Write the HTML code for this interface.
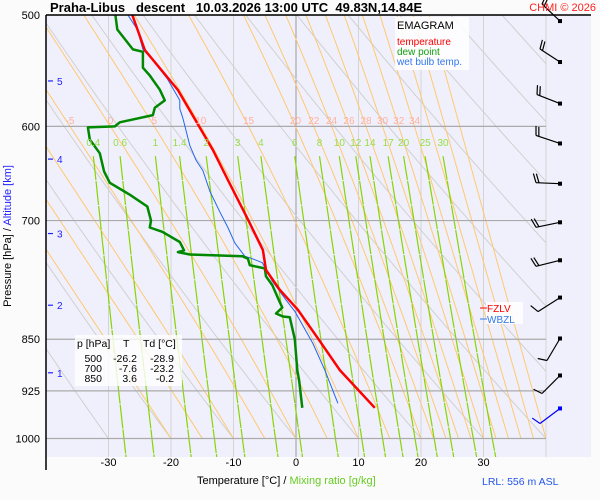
<!DOCTYPE html>
<html><head><meta charset="utf-8"><style>
body{margin:0;background:#fbfbfb;}
svg{display:block;font-family:"Liberation Sans",sans-serif;}
</style></head><body>
<svg id="chart" width="600" height="500" viewBox="0 0 600 500" xmlns="http://www.w3.org/2000/svg">
<rect x="0" y="0" width="600" height="500" fill="#fbfbfb"/>
<rect x="46" y="15" width="545" height="442" fill="#f0f0fc"/>
<g id="grid"></g><g id="series"></g><g id="barbs"></g><g id="labels"></g>
<line x1="46" y1="15" x2="591" y2="15" stroke="#000" stroke-width="1.5"/>
<line x1="46" y1="15" x2="46" y2="470" stroke="#000" stroke-width="1.5"/>
<text x="50" y="12" font-size="13" font-weight="bold" xml:space="preserve">Praha-Libus   descent   10.03.2026 13:00 UTC  49.83N,14.84E</text>
<text x="596" y="11" font-size="11" fill="#ff2020" text-anchor="end">CHMI © 2026</text>
<g>
<rect x="395" y="17" width="74" height="53" fill="#fff" opacity="0.85"/>
<text x="397" y="29" font-size="11">EMAGRAM</text>
<text x="397" y="45" font-size="10" fill="#ff0000">temperature</text>
<text x="397" y="55" font-size="10" fill="#10a010">dew point</text>
<text x="397" y="65" font-size="10" fill="#3377ee">wet bulb temp.</text>
</g>
<g>
<rect x="486" y="302" width="37" height="22" fill="#fff" opacity="0.85"/>
<line x1="480" y1="308" x2="487" y2="308" stroke="#ff0000"/><text x="487" y="312" font-size="10" fill="#ff0000">FZLV</text>
<line x1="480" y1="319" x2="487" y2="319" stroke="#3377ee"/><text x="487" y="323" font-size="10" fill="#3377ee">WBZL</text>
</g>
<g font-size="10.5">
<rect x="75" y="335" width="107" height="51" fill="#fff" opacity="0.8"/>
<text x="77" y="347">p [hPa]</text><text x="123" y="347">T</text><text x="143" y="347">Td [°C]</text>
<g text-anchor="end">
<text x="102" y="362">500</text><text x="137" y="362">-26.2</text><text x="174" y="362">-28.9</text>
<text x="102" y="372">700</text><text x="137" y="372">-7.6</text><text x="174" y="372">-23.2</text>
<text x="102" y="382">850</text><text x="137" y="382">3.6</text><text x="174" y="382">-0.2</text>
</g></g>
<text transform="translate(11,236) rotate(-90)" font-size="11" text-anchor="middle">Pressure [hPa]  /  <tspan fill="#2222ff">Altitude [km]</tspan></text>
<text x="197" y="484" font-size="11">Temperature [°C]  /   <tspan fill="#66cc22">Mixing ratio [g/kg]</tspan></text>
<text x="482" y="485" font-size="10.5" fill="#2255ee">LRL: 556 m ASL</text>
</svg>
<script>
const pressureTicks=[500,600,700,850,925,1000];
const tempTicks=[-30,-20,-10,0,10,20,30];
const altitudeKm=[1,2,3,4,5];
const altitudeP=[898,804,715,633,557];
const mixingRatios=[0.4,0.6,1,1.4,2,3,4,6,8,10,12,14,17,20,25,30];
const thetaWLabels=[-5,0,5,10,15,20,22,24,26,28,30,32,34];
const thetaW=[-20,-15,-10,-5,0,5,10,15,20,22,24,26,28,30,32,34,36,38,40];
const tempP=[500,529.5,565.3,600,623.6,655,700,734.6,759,784,810,850,894,951];
const tempT=[-26.2,-24.2,-18.9,-15.5,-13.3,-10.9,-7.6,-5.3,-4.8,-2.6,0.3,3.6,7.0,12.6];
const dewP=[500,512,529,531,545,552,565,575,582,589,596,600,601,613,627,646,658,671,684,700,708,713,725,735,737,740,742,745,753,757,767,778,800,807,815,819,820,835,850,894,909,951];
const dewT=[-28.9,-28.6,-26.1,-24.5,-24.5,-23.4,-21.8,-21,-22.6,-22.9,-28.2,-29,-33.3,-33,-31.4,-30.7,-29.8,-26.6,-23.8,-23.2,-23.4,-21.4,-18.6,-17.9,-18.9,-17,-8.6,-7.7,-7.4,-5,-4.8,-3.8,-2.6,-2.2,-3.2,-2.1,-1,-0.6,-0.2,0.2,0.5,1.0];
const wbP=[500,512,529,538,555,575,583,592,619,634,645,667,690,708,726,742,745,750,773,797,812,856,894,944];
const wbT=[-26.9,-25.4,-24.5,-23,-20.6,-18.6,-18.6,-18.1,-17,-16,-14.9,-13.8,-12.2,-10.9,-9.8,-8.2,-7,-5.4,-3.8,-1.6,-0.2,2.7,4.6,6.7];
const barbP=[505,540,578,617,659,702,747,794,849,902,952];
const barbColor=["#000","#000","#000","#000","#000","#000","#000","#000","#000","#000","#00f"];

const NS="http://www.w3.org/2000/svg";
const X0=46,X1=546,XR=591,YT=15,YB=457;
function xs(t){return 296+t*6.25;}
function ys(p){return 15+611*Math.log(p/500);}
function mk(tag,attrs,parent){const e=document.createElementNS(NS,tag);for(const k in attrs)e.setAttribute(k,attrs[k]);parent.appendChild(e);return e;}
const grid=document.getElementById('grid'),ser=document.getElementById('series'),lab=document.getElementById('labels'),brb=document.getElementById('barbs');
const defs=mk('defs',{},grid);
const cp=mk('clipPath',{id:'c1'},defs);mk('rect',{x:X0,y:YT,width:X1-X0,height:ys(1000)-YT},cp);
const cp2=mk('clipPath',{id:'c2'},defs);mk('rect',{x:X0,y:YT,width:X1-X0,height:YB-YT},cp2);

function es(tc){return 6.112*Math.exp(17.67*tc/(tc+243.5));}
for(let t=-30;t<=40;t+=10){const x=xs(t);if(x<X0||x>X1)continue;
 const l=mk('line',{x1:x,y1:YT,x2:x,y2:YB,stroke:t===0?'#999':'#d4d4d4','stroke-width':1},grid);
 
 }
const gd=mk('g',{'clip-path':'url(#c1)'},grid);
for(let th=173.15;th<=473.15;th+=10){let d='';
 for(let p=480;p<=1000;p+=10){const t=th*Math.pow(p/1000,0.2857)-273.15;d+=(d?'L':'M')+xs(t).toFixed(1)+','+ys(p).toFixed(1);}
 const l=mk('path',{d:d,fill:'none',stroke:'#d0d0d0','stroke-width':1},gd);
 
 }
function moist(tw){const pts=[];let T=tw+273.15,p=1000;const dp=-2;
 pts.push([p,tw]);
 while(p>480){const tc=T-273.15,e=es(tc),rs=0.622*e/(p-e),L=2.5e6;
  const dTdp=(287*T+L*rs)/(1004+L*L*rs*0.622/(287*T*T))/p;T+=dTdp*dp;p+=dp;pts.push([p,T-273.15]);}
 return pts;}
const gm=mk('g',{'clip-path':'url(#c1)'},grid);
const moistAt600={};
thetaW.forEach(tw=>{const pts=moist(tw);let d='';
 pts.forEach((q,i)=>{d+=(i?'L':'M')+xs(q[1]).toFixed(1)+','+ys(q[0]).toFixed(1);if(Math.abs(q[0]-600)<1)moistAt600[tw]=q[1];});
 const l=mk('path',{d:d,fill:'none',stroke:'#ffc870','stroke-width':1},gm);
 
 });
function wT(w,p){const e=w*p/(622+w),a=Math.log(e/6.112);return 243.5*a/(17.67-a);}
const gw=mk('g',{'clip-path':'url(#c2)'},grid);
mixingRatios.forEach(w=>{let d='';for(let p=630;p<=1035;p+=15){d+=(d?'L':'M')+xs(wT(w,p)).toFixed(1)+','+ys(p).toFixed(1);}
 const l=mk('path',{d:d,fill:'none',stroke:'#88d400','stroke-width':1.2,'stroke-dasharray':'24,1'},gw);
 
 
 const t=mk('text',{x:xs(wT(w,630)),y:146,'font-size':10,fill:'#99dd44','text-anchor':'middle'},lab);t.textContent=String(w);
 
 });
pressureTicks.forEach(p=>{const y=ys(p);
 const l=mk('line',{x1:X0,y1:y,x2:X1,y2:y,stroke:'#aaa','stroke-width':1.2},grid);
 
 
 const t=mk('text',{x:40,y:y+4,'font-size':11,'text-anchor':'end'},lab);t.textContent=String(p);
 
 });
thetaWLabels.forEach(tw=>{const t=mk('text',{x:xs(moistAt600[tw]),y:124,'font-size':10,fill:'#ffb0a0','text-anchor':'middle'},lab);t.textContent=String(tw);
 
 });
tempTicks.forEach(v=>{const t=mk('text',{x:xs(v),y:466,'font-size':11,'text-anchor':'middle'},lab);t.textContent=String(v);
 
 });
altitudeKm.forEach((k,i)=>{const y=ys(altitudeP[i]);
 const l=mk('line',{x1:48,y1:y,x2:53,y2:y,stroke:'#2222ff','stroke-width':1.2},lab);
 
 
 const t=mk('text',{x:57,y:y+4,'font-size':10,fill:'#2222ff'},lab);t.textContent=String(k);
 
 });
function prof(P,T,color,w,name){const d=P.map((p,i)=>(i?'L':'M')+xs(T[i]).toFixed(1)+','+ys(p).toFixed(1)).join('');
 const l=mk('path',{d:d,fill:'none',stroke:color,'stroke-width':w,'stroke-linejoin':'round'},ser);
 
 }
prof(wbP,wbT,'#2266ee',1,'wet-bulb-line');
prof(dewP,dewT,'#008800',2.5,'dew-point-line');
prof(tempP,tempT,'#ff0000',2.5,'temperature-line');
const shafts=[[-18,-17],[-20,-13],[-23,-9],[-24,-8],[-24,-1],[-24,5],[-24,6],[-22,14],[-13,22],[-18,18],[-20,15]];
barbP.forEach((p,i)=>{const y=ys(p),x=560,s=shafts[i],ex=x+s[0],ey=y+s[1],c=barbColor[i];
 const g=mk('g',{},brb);
 
 
 mk('line',{x1:x,y1:y,x2:ex,y2:ey,stroke:c,'stroke-width':1.2},g);
 mk('rect',{x:x-2,y:y-2,width:4,height:4,fill:c},g);
 const len=Math.hypot(s[0],s[1]),ux=s[0]/len,uy=s[1]/len,nx=uy,ny=-ux;
 const fe=i<7?2:1;
 for(let k=0;k<fe;k++){const bx=ex-ux*k*3,by=ey-uy*k*3;
  mk('line',{x1:bx,y1:by,x2:bx-nx*9+ux*3,y2:by-ny*9+uy*3,stroke:c,'stroke-width':1.2},g);}
});
</script>
</body></html>
